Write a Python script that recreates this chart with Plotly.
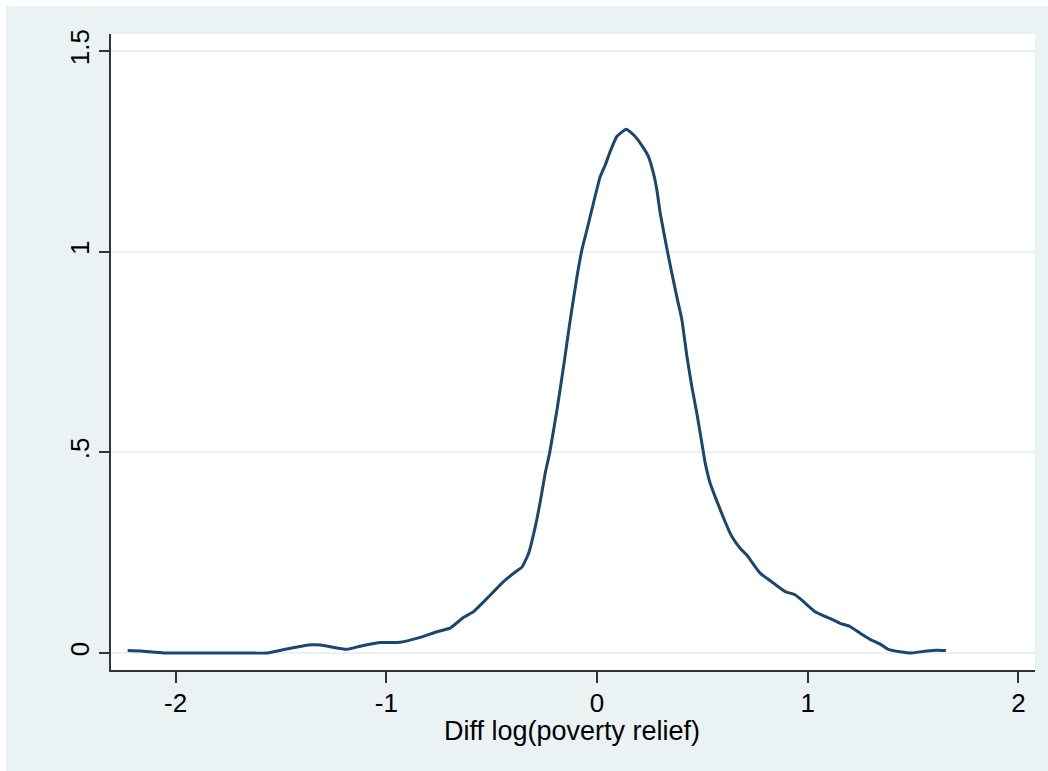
import plotly.graph_objects as go

# Kernel density estimate
diff_log = [-2.228, -2.167, -2.057, -1.883, -1.693, -1.566, -1.456, -1.369, -1.313, -1.187,
            -1.124, -1.030, -0.934, -0.839, -0.760, -0.697, -0.633, -0.586, -0.522, -0.444,
            -0.380, -0.356, -0.325, -0.293, -0.268, -0.246, -0.225, -0.190, -0.159, -0.143,
            -0.127, -0.116, -0.095, -0.072, -0.048, -0.017, 0.015, 0.039, 0.062, 0.094,
            0.139, 0.181, 0.221, 0.244, 0.268, 0.284, 0.300, 0.333, 0.357, 0.382,
            0.403, 0.427, 0.450, 0.474, 0.498, 0.513, 0.537, 0.561, 0.608, 0.640,
            0.679, 0.711, 0.774, 0.838, 0.893, 0.940, 0.980, 1.035, 1.106, 1.154,
            1.201, 1.249, 1.296, 1.344, 1.383, 1.439, 1.494, 1.565, 1.613, 1.656]
density = [0.006, 0.005, 0.000, 0.000, 0.000, 0.000, 0.012, 0.020, 0.020, 0.009,
           0.017, 0.026, 0.027, 0.039, 0.053, 0.062, 0.089, 0.103, 0.136, 0.178,
           0.205, 0.214, 0.248, 0.315, 0.381, 0.448, 0.498, 0.606, 0.713, 0.772,
           0.830, 0.868, 0.938, 1.004, 1.054, 1.121, 1.187, 1.216, 1.249, 1.287,
           1.305, 1.287, 1.258, 1.237, 1.195, 1.154, 1.096, 1.004, 0.942, 0.880,
           0.830, 0.738, 0.664, 0.597, 0.522, 0.475, 0.423, 0.389, 0.327, 0.290,
           0.261, 0.244, 0.199, 0.174, 0.153, 0.145, 0.128, 0.103, 0.086, 0.074,
           0.066, 0.049, 0.034, 0.022, 0.009, 0.003, 0.000, 0.005, 0.007, 0.006]

x_ticks = [-2, -1, 0, 1, 2]
x_tick_labels = ["-2", "-1", "0", "1", "2"]
y_ticks = [0, 0.5, 1, 1.5]
y_tick_labels = ["0", ".5", "1", "1.5"]
x_title = "Diff log(poverty relief)"

BG = "#EAF2F3"
LINE = "#1A476F"
AX = "#333333"
FONT = "Liberation Sans, Arial, sans-serif"

fig = go.Figure()
fig.add_trace(go.Scatter(x=diff_log, y=density, mode="lines",
                         line=dict(color=LINE, width=3, shape="spline", smoothing=0.4),
                         hoverinfo="skip", showlegend=False))

W, H = 1048, 771
ml, mr, mt, mb = 111, 13, 34, 101
pw, ph = W - ml - mr, H - mt - mb

def px_to_paper_x(px):
    return (px - ml) / pw

def px_to_paper_y(py):
    return (H - mb - py) / ph

shapes = [
    dict(type="rect", xref="paper", yref="paper", layer="below",
         x0=px_to_paper_x(0), x1=px_to_paper_x(6), y0=px_to_paper_y(H), y1=px_to_paper_y(0),
         fillcolor="white", line=dict(width=0)),
    dict(type="rect", xref="paper", yref="paper", layer="below",
         x0=px_to_paper_x(0), x1=px_to_paper_x(W), y0=px_to_paper_y(6), y1=px_to_paper_y(0),
         fillcolor="white", line=dict(width=0)),
]

annotations = [
    dict(text=x_title, xref="paper", yref="paper", x=px_to_paper_x(571.5), y=px_to_paper_y(731),
         xanchor="center", yanchor="middle", showarrow=False,
         font=dict(family=FONT, size=27, color="black")),
]

fig.update_layout(
    width=W, height=H,
    margin=dict(l=ml, r=mr, t=mt, b=mb, pad=0),
    paper_bgcolor=BG, plot_bgcolor="white",
    font=dict(family=FONT, size=26, color="black"),
    shapes=shapes,
    annotations=annotations,
    xaxis=dict(range=[-2.307, 2.079], tickmode="array", tickvals=x_ticks, ticktext=x_tick_labels,
               showgrid=False, zeroline=False, showline=True, linecolor=AX, linewidth=1.6,
               ticks="outside", ticklen=11, tickwidth=1.6, tickcolor=AX,
               ticklabelstandoff=-2, tickfont=dict(size=26)),
    yaxis=dict(range=[-0.0424, 1.5424], tickmode="array", tickvals=y_ticks, ticktext=y_tick_labels,
               showgrid=True, gridcolor=BG, gridwidth=1.6, zeroline=False,
               showline=True, linecolor=AX, linewidth=1.6,
               ticks="outside", ticklen=10, tickwidth=1.6, tickcolor=AX,
               tickangle=-90, tickfont=dict(size=26)),
)

fig.write_html("out.html", config={"displayModeBar": False},
               post_script="document.body.style.margin='0';document.body.style.padding='0';")
